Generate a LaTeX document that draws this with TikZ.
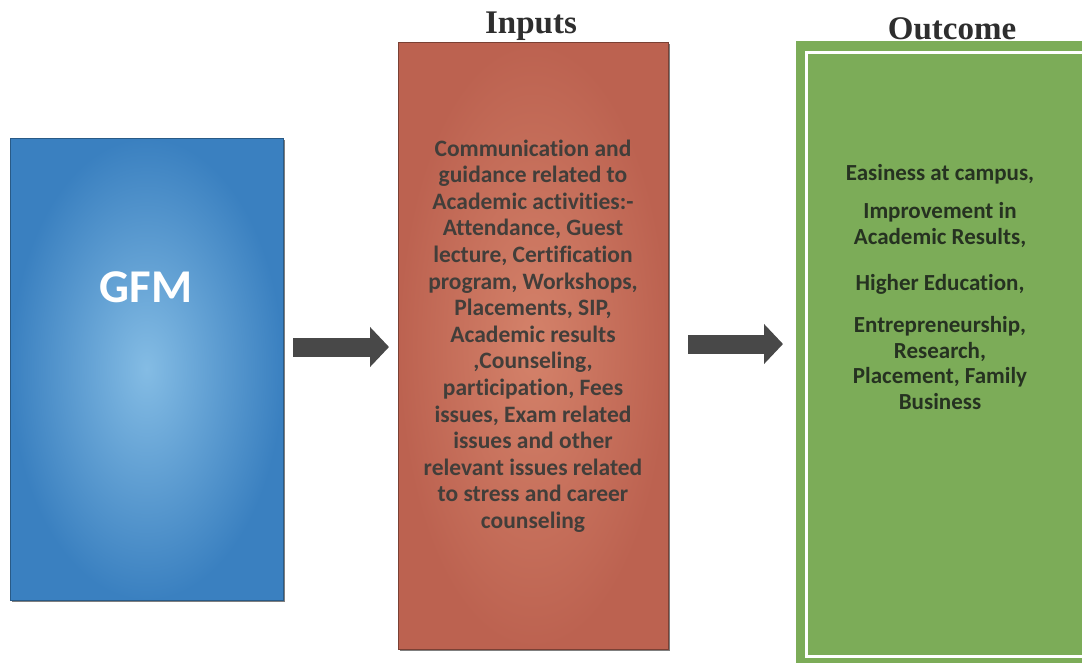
\documentclass[tikz,border=0pt]{standalone}
\usepackage{fontspec}
\newfontfamily\calfont[Ligatures=NoCommon]{Carlito}
\newfontfamily\timesfont{Liberation Serif}
\usetikzlibrary{arrows.meta,shadows}

\definecolor{blueout}{RGB}{58,128,192}
\definecolor{bluein}{RGB}{132,188,228}
\definecolor{redout}{RGB}{188,98,80}
\definecolor{redin}{RGB}{212,130,106}
\definecolor{greenbox}{RGB}{124,172,88}
\definecolor{arrowgrey}{RGB}{72,72,72}
\definecolor{textgrey}{RGB}{66,62,58}
\definecolor{greentext}{RGB}{38,50,33}

\begin{document}
\begin{tikzpicture}[x=1pt,y=-1pt,
  box/.style={rectangle, inner sep=0pt, outer sep=0pt},
  boxtext/.style={font=\calfont\bfseries\fontsize{23.5}{26.6}\selectfont, align=center, inner sep=0pt},
  titletext/.style={font=\timesfont\bfseries\fontsize{33}{36}\selectfont, text=black!82, inner sep=0pt},
  flow/.style={draw=arrowgrey, line width=19pt, -{Triangle[width=39pt,length=19pt]}}
]
\useasboundingbox[fill=white] (0,0) rectangle (1082,662);

% GFM box
\node[box, minimum width=273pt, minimum height=462pt, inner color=bluein, outer color=blueout,
      draw=blueout!70!black, line width=0.8pt,
      drop shadow={shadow xshift=2pt, shadow yshift=-2pt, opacity=0.5, fill=black}] (gfm) at (146.5,369) {};
\node[font=\calfont\bfseries\fontsize{47}{50}\selectfont, text=white, inner sep=0pt] (gfmtext) at (146,287) {GFM};

% Inputs box
\node[box, minimum width=270pt, minimum height=607pt, inner color=redin, outer color=redout,
      draw=redout!65!black, line width=0.8pt,
      drop shadow={shadow xshift=1.5pt, shadow yshift=-1.5pt, opacity=0.5, fill=black}] (inp) at (533,345.5) {};
\node[titletext] (inptitle) at (531,26) {Inputs};
\node[boxtext, text=textgrey] (inptext) at (533,336) {Communication and\\ guidance related to\\ Academic activities:-\\ Attendance, Guest\\ lecture, Certification\\ program, Workshops,\\ Placements, SIP,\\ Academic results\\ ,Counseling,\\ participation, Fees\\ issues, Exam related\\ issues and other\\ relevant issues related\\ to stress and career\\ counseling};

% Outcome box
\node[box, minimum width=294pt, minimum height=629pt, fill=greenbox] (out) at (943,355.5) {};
\node[box, draw=white, line width=3pt, minimum width=284pt, minimum height=604pt] (outframe) at (948,354) {};
\node[titletext] (outtitle) at (952,29) {Outcome};
\node[boxtext, text=greentext, font=\calfont\bfseries\fontsize{23}{25.6}\selectfont] (outtext) at (940,287)
  {Easiness at campus,\\[13pt] Improvement in\\ Academic Results,\\[20pt] Higher Education,\\[17pt] Entrepreneurship,\\ Research,\\ Placement, Family\\ Business};

% arrows
\draw[flow, shorten <=10pt, shorten >=9pt] (gfm.east |- 0,347) -- (inp.west |- 0,347);
\draw[flow, shorten <=20pt, shorten >=13pt] (inp.east |- 0,344) -- (out.west |- 0,344);
\end{tikzpicture}
\end{document}
